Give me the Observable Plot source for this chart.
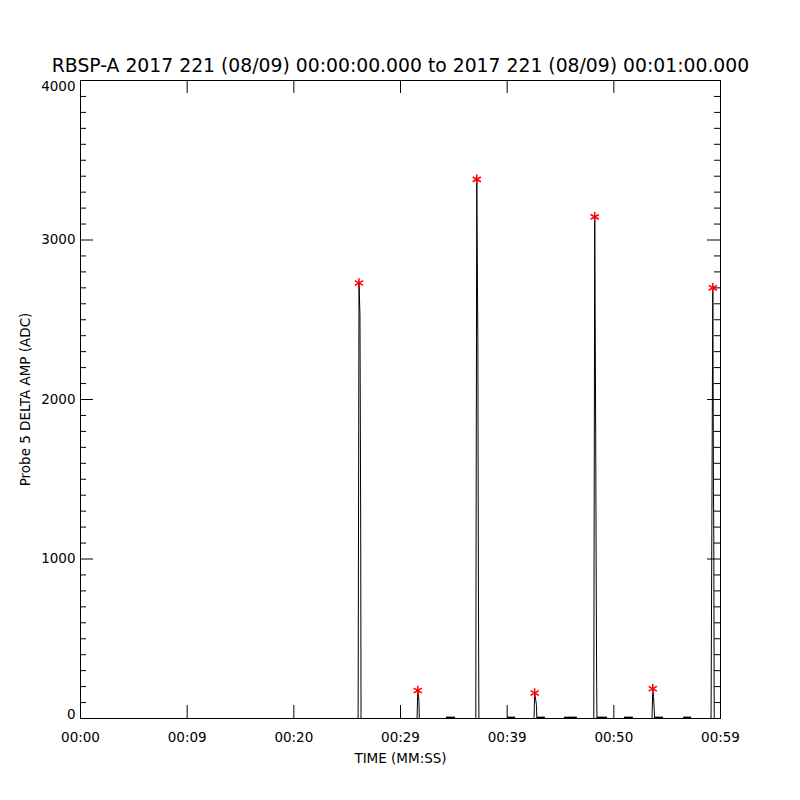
<!DOCTYPE html>
<html>
<head>
<meta charset="utf-8">
<script src="https://cdn.jsdelivr.net/npm/d3@7"></script>
<script src="https://cdn.jsdelivr.net/npm/@observablehq/plot@0.6"></script>
<style>
  html, body { margin: 0; padding: 0; background: #ffffff; }
  #chart svg { display: block; }
</style>
</head>
<body>
<div id="chart"></div>
<script>
// ---- Data ----
const titleText = "RBSP-A 2017 221 (08/09) 00:00:00.000 to 2017 221 (08/09) 00:01:00.000";
const xTitle = "TIME (MM:SS)";
const yTitle = "Probe 5 DELTA AMP (ADC)";

// x tick positions (seconds) and their printed labels
const xTicks = [0, 10, 20, 30, 40, 50, 60];
const xTickLabels = ["00:00", "00:09", "00:20", "00:29", "00:39", "00:50", "00:59"];
const yMajorTicks = [0, 1000, 2000, 3000, 4000];

// waveform samples: time (s) and amplitude (ADC)
const sampleTimes = [
  0,
  26.02, 26.03, 26.11, 26.20, 26.27, 26.30,
  31.55, 31.62, 31.69, 31.73, 31.76,
  37.06, 37.07, 37.15, 37.25, 37.31, 37.35,
  42.50, 42.52, 42.58, 42.67, 42.75, 42.78,
  48.12, 48.21, 48.30, 48.35, 48.39, 48.42,
  53.58, 53.59, 53.65, 53.72, 53.79, 53.82,
  59.11, 59.12, 59.28, 59.34, 59.37, 59.41,
  60
];
const sampleAmps = [
  0,
  0, 81, 2730, 2530, 1170, 0,
  0, 175, 138, 106, 0,
  0, 450, 3380, 2375, 700, 0,
  0, 6, 160, 120, 81, 0,
  0, 3145, 1780, 850, 200, 0,
  0, 33, 186, 138, 50, 0,
  0, 75, 2700, 1430, 1165, 0,
  0
];

// peak markers (red asterisks)
const peakTimes = [26.11, 31.62, 37.15, 42.58, 48.21, 53.65, 59.28];
const peakAmps  = [2730, 175, 3380, 160, 3145, 186, 2700];

// short low-level stretches just above zero
const lowStart = [34.31, 40.03, 42.84, 45.38, 48.47, 51.00, 53.91, 56.53];
const lowEnd   = [35.16, 40.78, 43.59, 46.59, 49.41, 51.84, 54.66, 57.28];
const lowLevel = [7, 7, 7, 7, 7, 7, 7, 7];

// ---- Build tables ----
const samples = sampleTimes.map((t, i) => ({t, v: sampleAmps[i]}));
const peaks = peakTimes.map((t, i) => ({t, v: peakAmps[i]}));
const lows = lowStart.map((s, i) => ({s, e: lowEnd[i], v: lowLevel[i]}));
const xLabelMap = new Map(xTicks.map((t, i) => [t, xTickLabels[i]]));
const yMinorTicks = d3.range(0, 4001, 100).filter(d => d % 1000 !== 0);

const W = 800, H = 800, ML = 80, MR = 80, MT = 80, MB = 82;
const FW = W - ML - MR, FH = H - MT - MB;
const font = "DejaVu Sans, sans-serif";

const chart = Plot.plot({
  width: W, height: H,
  marginLeft: ML, marginRight: MR, marginTop: MT, marginBottom: MB,
  style: {fontFamily: font, background: "#ffffff", color: "#000000", overflow: "visible"},
  x: {domain: [0, 60]},
  y: {domain: [0, 4000]},
  marks: [
    // tick marks on all four sides, pointing inward
    Plot.tickY(yMajorTicks, {y: d => d, insetRight: FW - 13, stroke: "black"}),
    Plot.tickY(yMinorTicks, {y: d => d, insetRight: FW - 6, stroke: "black"}),
    Plot.tickY(yMajorTicks, {y: d => d, insetLeft: FW - 13, stroke: "black"}),
    Plot.tickY(yMinorTicks, {y: d => d, insetLeft: FW - 6, stroke: "black"}),
    Plot.tickX(xTicks, {x: d => d, insetBottom: FH - 13, stroke: "black"}),
    Plot.tickX(xTicks, {x: d => d, insetTop: FH - 13, stroke: "black"}),
    // axis labels
    Plot.axisX(xTicks, {tickSize: 0, tickPadding: 14, fontSize: 13.5, label: null,
      tickFormat: d => xLabelMap.get(d)}),
    Plot.axisY([1000, 2000, 3000], {tickSize: 0, tickPadding: 5, fontSize: 13.5, label: null,
      tickFormat: d => String(d)}),
    Plot.axisY([4000], {tickSize: 0, tickPadding: 5, fontSize: 13.5, label: null, dy: 6,
      tickFormat: d => String(d)}),
    Plot.axisY([0], {tickSize: 0, tickPadding: 5, fontSize: 13.5, label: null, dy: -4,
      tickFormat: d => String(d)}),
    // data
    Plot.ruleY(lows, {x1: "s", x2: "e", y: "v", stroke: "black", strokeWidth: 1.5}),
    Plot.line(samples, {x: "t", y: "v", stroke: "black", strokeWidth: 1}),
    Plot.dot(peaks, {x: "t", y: "v", symbol: "asterisk", r: 4.5, stroke: "#ff0000", strokeWidth: 1.5}),
    Plot.frame({stroke: "black", strokeWidth: 1}),
    // titles
    Plot.text([titleText], {frameAnchor: "top", dy: -15, fontSize: 18.8, lineAnchor: "middle", fill: "black"}),
    Plot.text([xTitle], {frameAnchor: "bottom", dy: 40, fontSize: 13.5, lineAnchor: "middle", fill: "black"}),
    Plot.text([yTitle], {frameAnchor: "left", dx: -55, rotate: -90, fontSize: 13.5, textAnchor: "middle", lineAnchor: "middle", fill: "black"})
  ]
});

document.getElementById("chart").appendChild(chart);
</script>
</body>
</html>
